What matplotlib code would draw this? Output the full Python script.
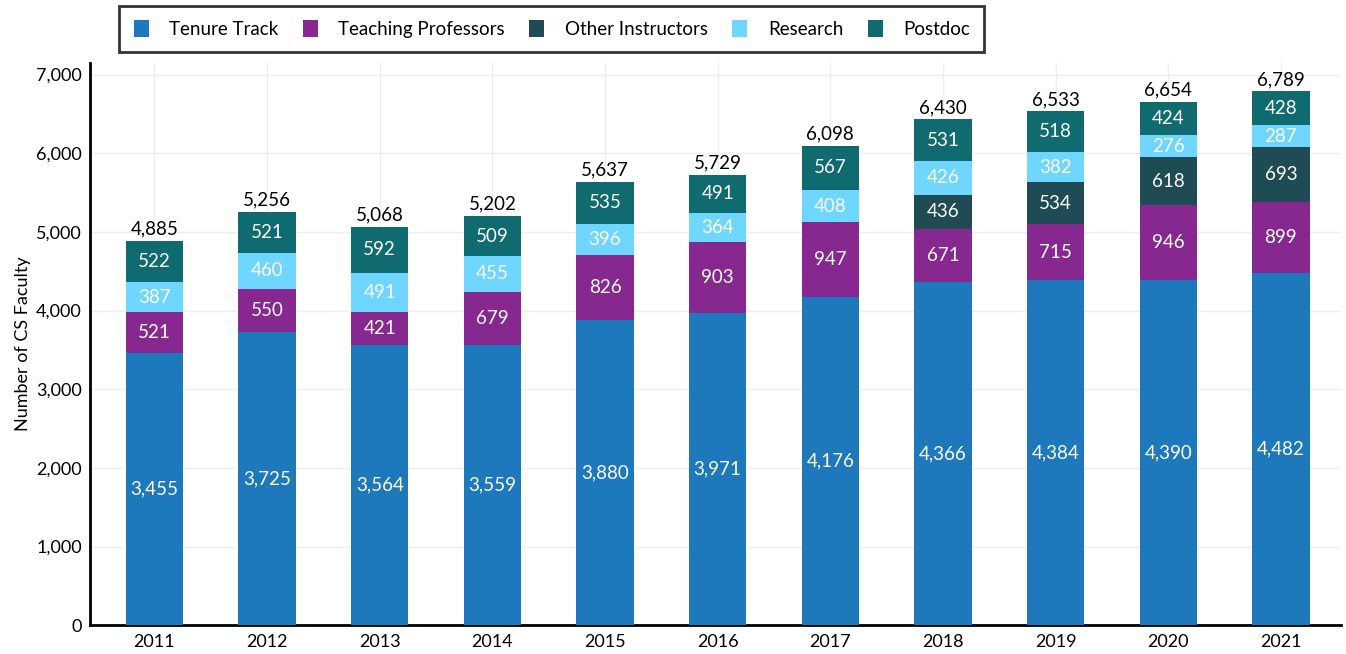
import numpy as np
import matplotlib.pyplot as plt

years = ["2011", "2012", "2013", "2014", "2015", "2016", "2017", "2018", "2019", "2020", "2021"]
tenure = [3455, 3725, 3564, 3559, 3880, 3971, 4176, 4366, 4384, 4390, 4482]
teaching = [521, 550, 421, 679, 826, 903, 947, 671, 715, 946, 899]
other = [0, 0, 0, 0, 0, 0, 0, 436, 534, 618, 693]
research = [387, 460, 491, 455, 396, 364, 408, 426, 382, 276, 287]
postdoc = [522, 521, 592, 509, 535, 491, 567, 531, 518, 424, 428]
totals = [4885, 5256, 5068, 5202, 5637, 5729, 6098, 6430, 6533, 6654, 6789]

series = [
    ("Tenure Track", tenure, "#1D78BC"),
    ("Teaching Professors", teaching, "#862890"),
    ("Other Instructors", other, "#1E4B54"),
    ("Research", research, "#6FD6FF"),
    ("Postdoc", postdoc, "#0F6B6F"),
]

plt.rcParams['font.family'] = ['Lato', 'DejaVu Sans']

fig = plt.figure(figsize=(13.46, 6.54), dpi=100)
ax = fig.add_axes([0.067, 0.044, 0.929, 0.860])

x = np.arange(len(years))
bottom = np.zeros(len(years))
handles = []
for name, vals, col in series:
    vals = np.array(vals, dtype=float)
    b = ax.bar(x, vals, 0.51, bottom=bottom, color=col, label=name, zorder=3)
    handles.append(b)
    for xi, v, bt in zip(x, vals, bottom):
        if v > 0:
            ax.text(xi, bt + v / 2, f"{int(v):,}", ha="center", va="center",
                    color="white", fontsize=13.5, zorder=4)
    bottom += vals

for xi, t in zip(x, totals):
    ax.text(xi, t + 40, f"{t:,}", ha="center", va="bottom", color="black", fontsize=13.5)

ax.set_xlim(-0.57, 10.53)
ax.set_ylim(0, 7150)
ax.set_yticks(range(0, 7001, 1000))
ax.set_yticklabels([f"{v:,}" for v in range(0, 7001, 1000)])
ax.set_xticks(x)
ax.set_xticklabels(years)
ax.tick_params(length=0, labelsize=13, pad=6)
ax.set_ylabel("Number of CS Faculty", fontsize=13)
ax.grid(True, color="#eeeeee", linewidth=1, zorder=0)
for s in ["top", "right"]:
    ax.spines[s].set_visible(False)
for s in ["left", "bottom"]:
    ax.spines[s].set_linewidth(2)
    ax.spines[s].set_color("black")

leg = fig.legend(handles=handles, loc="center", bbox_to_anchor=(0.41, 0.9557), ncol=5,
                 fontsize=13.5, frameon=True, fancybox=False, edgecolor="black",
                 handlelength=0.8, handleheight=1.0, columnspacing=1.3, handletextpad=1.1,
                 borderpad=0.75, borderaxespad=0)
leg.get_frame().set_linewidth(2)

fig.savefig("out.png", dpi=100)
